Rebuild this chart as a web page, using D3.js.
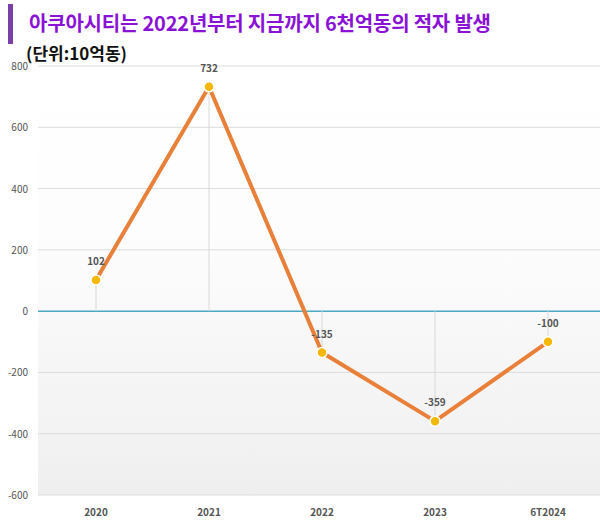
<!DOCTYPE html>
<html><head><meta charset="utf-8">
<script src="https://cdn.jsdelivr.net/npm/d3@7"></script>
<style>body{margin:0;background:#fff;}svg{display:block;font-family:"Noto Sans CJK KR","Noto Sans",sans-serif;}</style>
</head><body>
<svg id="chart" width="600" height="525"></svg>
<script>
// values in 10억동
const years = ["2020", "2021", "2022", "2023", "6T2024"];
const values = [102, 732, -135, -359, -100];
const yTicks = [800, 600, 400, 200, 0, -200, -400, -600];

const svg = d3.select("#chart");
const W = 600, H = 525;

const x = d3.scaleBand().domain(years).range([39.5, 604.5]);
const y = d3.scaleLinear().domain([-600, 800]).range([495, 66]);

const defs = svg.append("defs");
const grad = defs.append("linearGradient").attr("id", "bg").attr("x1", 0).attr("x2", 0).attr("y1", 0).attr("y2", 1);
grad.append("stop").attr("offset", "0%").attr("stop-color", "#ffffff");
grad.append("stop").attr("offset", "40%").attr("stop-color", "#fdfdfd");
grad.append("stop").attr("offset", "100%").attr("stop-color", "#efefef");
svg.append("rect").attr("x", 38).attr("y", y(800)).attr("width", W - 38).attr("height", y(-600) - y(800)).attr("fill", "url(#bg)");

// title
svg.append("rect").attr("x", 8).attr("y", 4).attr("width", 5).attr("height", 40).attr("fill", "#7b3fa8");
svg.append("text").attr("x", 29).attr("y", 31).attr("font-size", 20).attr("font-weight", "bold")
  .attr("fill", "#8a12d6").attr("textLength", 462).text("아쿠아시티는 2022년부터 지금까지 6천억동의 적자 발생");
svg.append("text").attr("x", 26).attr("y", 60).attr("font-size", 17).attr("font-weight", "bold")
  .attr("fill", "#111").text("(단위:10억동)");

// grid
const g = svg.append("g");
g.selectAll("line.grid").data(yTicks).join("line")
  .attr("x1", 38).attr("x2", W).attr("y1", d => y(d)).attr("y2", d => y(d))
  .attr("stroke", d => d === 0 ? "#4aaac4" : "#dcdcdc").attr("stroke-width", d => d === 0 ? 1.5 : 1);
g.selectAll("text.yt").data(yTicks).join("text")
  .attr("x", 28).attr("y", d => y(d) + 4).attr("text-anchor", "end")
  .attr("font-size", 10).attr("fill", "#555").text(d => d);

const cx = d => x(d) + x.bandwidth() / 2;

// drop lines
g.selectAll("line.drop").data(years).join("line")
  .attr("x1", cx).attr("x2", cx)
  .attr("y1", (d, i) => y(values[i])).attr("y2", y(0))
  .attr("stroke", "#d8d8d8").attr("stroke-width", 1);

// x labels
g.selectAll("text.xt").data(years).join("text")
  .attr("x", cx).attr("y", y(-600) + 21).attr("text-anchor", "middle")
  .attr("font-size", 10).attr("font-weight", "bold").attr("fill", "#555").text(d => d);

const line = d3.line().x((d, i) => cx(years[i])).y(d => y(d));
g.append("path").datum(values).attr("d", line)
  .attr("fill", "none").attr("stroke", "#e8803a").attr("stroke-width", 4).attr("stroke-linejoin", "round");

g.selectAll("circle").data(values).join("circle")
  .attr("cx", (d, i) => cx(years[i])).attr("cy", d => y(d)).attr("r", 5)
  .attr("fill", "#f5b800").attr("stroke", "#fff").attr("stroke-width", 1.5);

g.selectAll("text.lab").data(values).join("text")
  .attr("x", (d, i) => cx(years[i])).attr("y", d => y(d) - 15).attr("text-anchor", "middle")
  .attr("font-size", 10).attr("font-weight", "bold").attr("fill", "#555").text(d => d);
</script>
</body></html>
